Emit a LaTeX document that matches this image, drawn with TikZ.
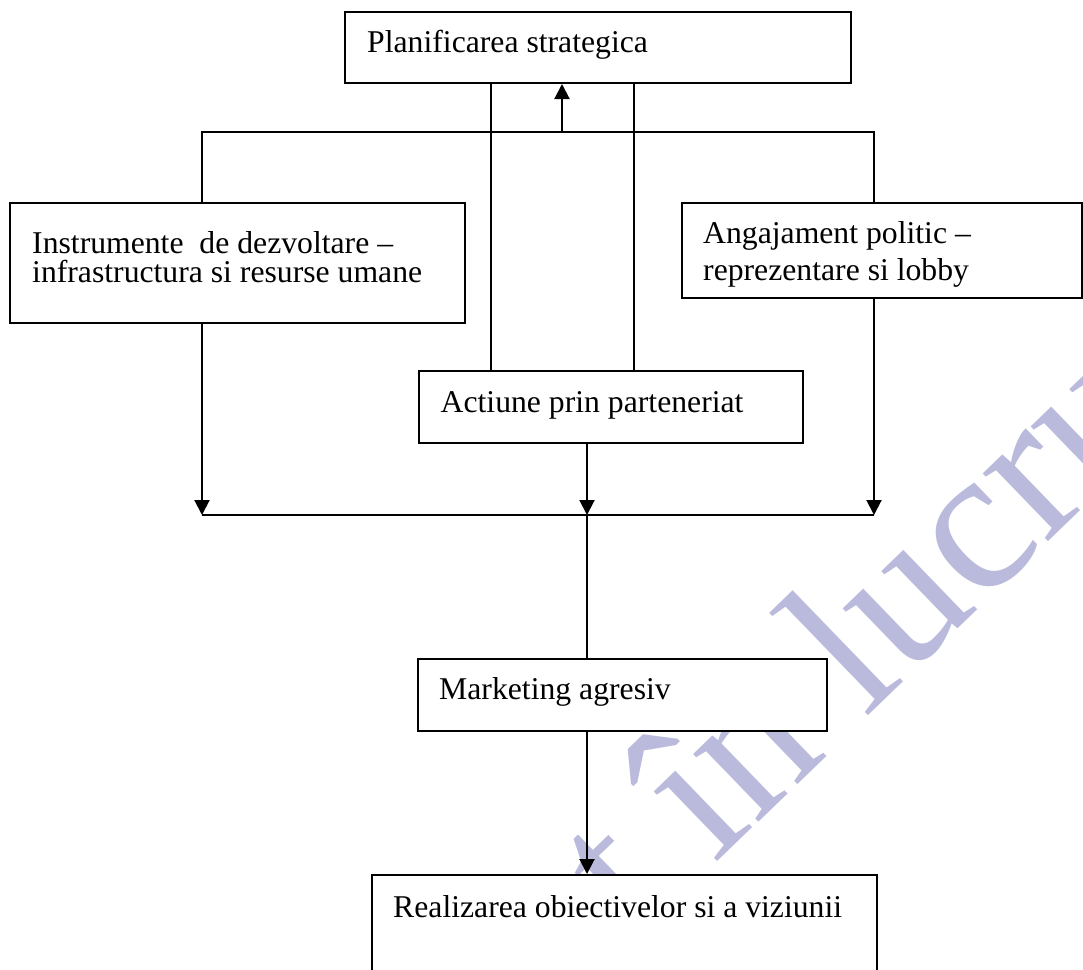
\documentclass[tikz,border=0pt]{standalone}
\usepackage{fontspec}
\setmainfont{Liberation Serif}
\usetikzlibrary{arrows.meta}
\definecolor{wm}{RGB}{186,186,220}
\tikzset{
  box/.style={draw=black, fill=white, line width=2pt, inner sep=0pt},
  txt/.style={anchor=base west, inner sep=0pt, font=\fontsize{31.7}{36}\selectfont},
  conn/.style={line width=2pt},
  arr/.style={conn, -{Triangle[width=15pt,length=15pt]}},
  wmtext/.style={anchor=base west, rotate=44, text=wm, inner sep=0pt, font=\fontsize{205}{205}\selectfont}
}
\begin{document}
\begin{tikzpicture}[x=1pt,y=-1pt]
\useasboundingbox (0,0) rectangle (1083,969);
\clip (0,0) rectangle (1083,969);
\fill[white] (0,0) rectangle (1083,969);
% watermark
\node[wmtext] (wmark) at (636,940) {t în lucru};
% boxes
\node[box, minimum width=506pt, minimum height=71pt] (plan) at (598,47.5) {};
\node[box, minimum width=455pt, minimum height=120pt] (instr) at (237.5,263) {};
\node[box, minimum width=399.5pt, minimum height=95pt] (angaj) at (881.75,250.5) {};
\node[box, minimum width=384pt, minimum height=72pt] (act) at (611,407) {};
\node[box, minimum width=409pt, minimum height=72pt] (mark) at (622.5,695) {};
\node[box, minimum width=505pt, minimum height=125pt] (real) at (624.5,937.5) {};
% texts
\node[txt] (tplan) at (367,52) {Planificarea strategica};
\node[txt] (tinstr1) at (32,253) {Instrumente\ \ de dezvoltare –};
\node[txt] (tinstr2) at (32,282) {infrastructura si resurse umane};
\node[txt] (tang1) at (703,243) {Angajament politic –};
\node[txt] (tang2) at (703,280) {reprezentare si lobby};
\node[txt] (tact) at (440.5,412) {Actiune prin parteneriat};
\node[txt] (tmark) at (439,699) {Marketing agresiv};
\node[txt] (treal) at (393,917) {Realizarea obiectivelor si a viziunii};
% junctions
\coordinate (jTL) at (202,132);
\coordinate (jTR) at (874,132);
\coordinate (jTM) at (562,132);
\coordinate (jBL) at (202,515);
\coordinate (jBR) at (874,515);
\coordinate (jBM) at (587,515);
\coordinate (xA) at (491,0);
\coordinate (xB) at (634,0);
% connectors
\draw[conn] (instr.north -| jTL) -- (jTL) -- (jTR) -- (angaj.north -| jTR);
\draw[arr] (jTM) -- (plan.south -| jTM);
\draw[conn] (plan.south -| xA) -- (act.north -| xA);
\draw[conn] (plan.south -| xB) -- (act.north -| xB);
\draw[conn] (jBL) -- (jBR);
\draw[arr] (instr.south -| jBL) -- (jBL);
\draw[arr] (angaj.south -| jBR) -- (jBR);
\draw[arr] (act.south -| jBM) -- (jBM);
\draw[conn] (jBM) -- (mark.north -| jBM);
\draw[arr] (mark.south -| jBM) -- (real.north -| jBM);
\end{tikzpicture}
\end{document}
